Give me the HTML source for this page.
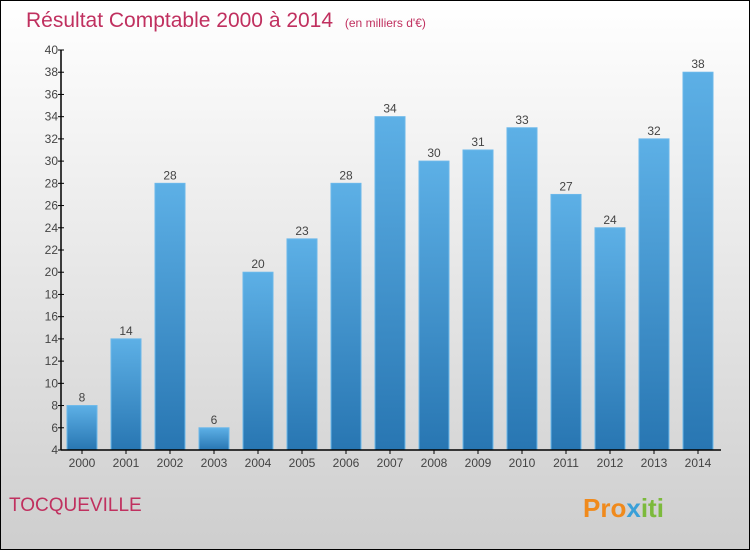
<!DOCTYPE html>
<html><head><meta charset="utf-8"><style>
body{margin:0;}
#wrap{position:relative;width:748px;height:548px;border:1px solid #000;background:linear-gradient(#fff,#f3f3f3 25%,#cecece);font-family:"Liberation Sans",sans-serif;overflow:hidden}
svg text{font-family:"Liberation Sans",sans-serif}
</style></head><body>
<div id="wrap">
<svg id="chart" width="748" height="548">
<defs><linearGradient id="bg" x1="0" y1="0" x2="0" y2="1"><stop offset="0" stop-color="#5db0e6"/><stop offset="1" stop-color="#2876b2"/></linearGradient></defs>
<text x="25" y="26" font-size="21" fill="#c0305f">Résultat Comptable 2000 à 2014 <tspan font-size="12" dx="6">(en milliers d'€)</tspan></text>
<text x="8" y="510" font-size="19" fill="#c0305f">TOCQUEVILLE</text>
<text x="582" y="516" font-size="26" font-weight="bold" fill="#f08a1c">Pro<tspan fill="#3aa0d8">x</tspan><tspan fill="#7cba3c">iti</tspan></text>
<g id="plot"></g>
</svg>
</div>
<script>
const years=["2000","2001","2002","2003","2004","2005","2006","2007","2008","2009","2010","2011","2012","2013","2014"];
const values=[8,14,28,6,20,23,28,34,30,31,33,27,24,32,38];
const yTicks=[4,6,8,10,12,14,16,18,20,22,24,26,28,30,32,34,36,38,40];
const NS="http://www.w3.org/2000/svg";
const g=document.getElementById('plot');
const y0=449,yTop=49,vMin=4,vMax=40,xAxis=60,x0=81,step=44,bw=30;
const ys=v=>y0-(v-vMin)/(vMax-vMin)*(y0-yTop);
const xs=i=>x0+i*step;
function mk(t,a){const e=document.createElementNS(NS,t);for(const k in a)e.setAttribute(k,a[k]);g.appendChild(e);return e;}
yTicks.forEach(v=>{
 const l=mk('line',{x1:xAxis-3,x2:xAxis+3,y1:ys(v),y2:ys(v),stroke:'#000'});
 
 
 const t=mk('text',{x:xAxis-3,y:ys(v)+4,'font-size':12,'text-anchor':'end',fill:'#444'});
 t.textContent=v;
 
 
});
values.forEach((v,i)=>{
 const r=mk('rect',{x:xs(i)-bw/2,y:ys(v),width:bw,height:y0-ys(v),fill:'url(#bg)',stroke:'#6bb8ea','stroke-width':1});
 
 
 const t=mk('text',{x:xs(i),y:ys(v)-4,'font-size':12,'text-anchor':'middle',fill:'#444'});
 t.textContent=v;
 
 
 const tk=mk('line',{x1:xs(i),x2:xs(i),y1:y0,y2:y0+4,stroke:'#000'});
 
 
 const xl=mk('text',{x:xs(i),y:y0+17,'font-size':12,'text-anchor':'middle',fill:'#444'});
 xl.textContent=years[i];
 
 
});
const ya=mk('line',{x1:xAxis,x2:xAxis,y1:yTop,y2:y0,stroke:'#000','stroke-width':1.5});


const xa=mk('line',{x1:xAxis,x2:720,y1:y0,y2:y0,stroke:'#000','stroke-width':1.5});


</script>
</body></html>
